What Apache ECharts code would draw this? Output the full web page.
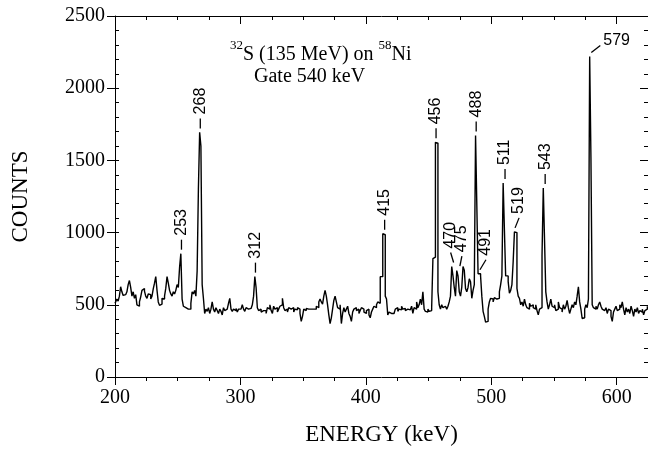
<!DOCTYPE html>
<html>
<head>
<meta charset="utf-8">
<script src="https://cdn.jsdelivr.net/npm/echarts@6/dist/echarts.min.js"></script>
<style>
  html, body { margin: 0; padding: 0; background: #fff; }
  #chart { width: 648px; height: 451px; }
</style>
</head>
<body>
<div id="chart"></div>
<script>
  // gamma spectrum gated on 540 keV, one value per 1 keV channel (200 ... 625 keV)
  const channelStart = 200;
  const counts = [
    510, 500, 540, 525, 560, 625, 590, 565, 570, 560,
    590, 640, 668, 620, 560, 590, 545, 570, 500, 490,
    520, 555, 600, 613, 595, 560, 545, 575, 570, 540,
    560, 610, 650, 695, 600, 520, 496, 505, 545, 540,
    560, 615, 695, 650, 600, 575, 560, 590, 575, 600,
    640, 620, 760, 854, 540, 490, 480, 490, 470, 460,
    470, 510, 590, 575, 600, 560, 735, 1300, 1694, 1600,
    640, 545, 440, 470, 455, 480, 440, 470, 520, 470,
    450, 480, 460, 440, 470, 455, 430, 480, 460, 470,
    480, 510, 545, 470, 455, 470, 460, 475, 450, 470,
    470, 460, 500, 470, 455, 480, 470, 460, 475, 480,
    500, 560, 695, 620, 480, 460, 470, 450, 460, 470,
    460, 440, 480, 470, 500, 460, 440, 490, 470, 480,
    450, 470, 490, 500, 545, 480, 460, 470, 450, 480,
    470, 460, 480, 450, 470, 465, 480, 470, 440, 385,
    420, 470, 460, 475, 470, 465, 470, 480, 470, 475,
    470, 490, 480, 520, 540, 520, 505, 560, 600, 560,
    500, 430, 370, 410, 470, 530, 560, 520, 480, 470,
    500, 370, 440, 480, 450, 470, 490, 440, 420, 385,
    450, 470, 480, 460, 470, 440, 460, 480, 470, 450,
    440, 460, 470, 430, 410, 450, 470, 490, 480, 500,
    520, 510, 695, 695, 992, 985, 560, 540, 430, 450,
    440, 445, 440, 445, 470, 480, 455, 470, 465, 490,
    470, 475, 460, 470, 480, 465, 470, 490, 440, 480,
    470, 520, 480, 500, 540, 500, 590, 470, 455, 450,
    470, 455, 460, 480, 820, 830, 1625, 1620, 590, 500,
    470, 500, 480, 490, 480, 470, 490, 520, 560, 765,
    700, 620, 560, 737, 700, 590, 560, 620, 765, 740,
    613, 590, 620, 680, 660, 545, 600, 640, 1673, 1670,
    715, 715, 700, 560, 455, 420, 380, 385, 470, 520,
    545, 540, 520, 550, 540, 545, 545, 590, 640, 700,
    1343, 1340, 700, 700, 660, 580, 600, 640, 800, 1005,
    1000, 613, 560, 545, 500, 520, 490, 540, 500, 480,
    470, 510, 490, 500, 480, 470, 500, 460, 430, 470,
    480, 840, 1308, 1305, 590, 520, 470, 500, 540, 490,
    480, 500, 460, 470, 520, 480, 470, 450, 500, 470,
    490, 530, 480, 440, 470, 500, 480, 520, 500, 560,
    625, 520, 470, 405, 410, 470, 500, 480, 540, 2220,
    1520, 500, 480, 470, 490, 470, 500, 520, 490, 470,
    460, 450, 480, 440, 470, 460, 420, 385, 450, 470,
    490, 460, 470, 500, 480, 520, 470, 430, 480, 450,
    470, 440, 490, 460, 420, 470, 450, 480, 440, 460,
    450, 470, 430, 460, 470, 490
  ];

  // labelled peaks (keV) and the height of each peak top
  const peakEnergies = [253, 268, 312, 415, 456, 470, 475, 488, 491, 511, 519, 543, 579];
  const peakTops = [854, 1694, 695, 992, 1625, 765, 740, 1673, 715, 1343, 1005, 1308, 2220];
  // sideways offset of each label from its peak, px
  const labelShift = [0, 0, 0, 0, 0, -3, 2, 0, 6, 0, 4, 0, 0];
  const sideLabels = [579];

  const energyRange = [200, 625];
  const countRange = [0, 2500];

  const serif = '"Liberation Serif", "Times New Roman", serif';
  const sans = '"Liberation Sans", Arial, sans-serif';

  const spectrum = counts.map((c, i) => [channelStart + i, c]);

  const renderPeakLabel = (params, api) => {
    const p = api.coord([api.value(0), api.value(1)]);
    const x = p[0];
    const y = p[1];
    const shift = api.value(2);
    const text = String(api.value(0));
    const dash = { stroke: '#000', lineWidth: 1.3 };
    if (sideLabels.indexOf(api.value(0)) >= 0) {
      return {
        type: 'group',
        children: [
          { type: 'line', shape: { x1: x + 1, y1: y - 4, x2: x + 10, y2: y - 11 }, style: dash },
          {
            type: 'text', x: x + 13, y: y - 16,
            style: { text, fill: '#000', font: '16px ' + sans, align: 'left', verticalAlign: 'middle' },
          },
        ],
      };
    }
    return {
      type: 'group',
      children: [
        { type: 'line', shape: { x1: x, y1: y - 4, x2: x + shift, y2: y - 14 }, style: dash },
        {
          type: 'text', x: x + shift, y: y - 18, rotation: Math.PI / 2,
          style: { text, fill: '#000', font: '16px ' + sans, align: 'left', verticalAlign: 'middle' },
        },
      ],
    };
  };

  const black = { color: '#000', width: 1 };

  const getOption = () => {
    const value = {
      animation: false,
      backgroundColor: '#fff',
      grid: { left: 115, top: 16, width: 534, height: 363 },
      xAxis: [
        {
          type: 'value', position: 'bottom', min: energyRange[0], max: energyRange[1], interval: 100,
          axisLine: { show: true, onZero: false, lineStyle: black },
          axisTick: { show: true, inside: false, length: 8, lineStyle: black },
          axisLabel: { color: '#000', fontFamily: serif, fontSize: 20, margin: 11, showMaxLabel: false },
          splitLine: { show: false },
          name: 'ENERGY (keV)', nameLocation: 'middle', nameGap: 46,
          nameTextStyle: { color: '#000', fontFamily: serif, fontSize: 23 },
        },
        {
          type: 'value', position: 'bottom', min: energyRange[0], max: energyRange[1], interval: 25,
          axisLine: { show: false, onZero: false },
          axisTick: { show: true, inside: false, length: 4, lineStyle: black },
          axisLabel: { show: false },
          splitLine: { show: false },
        },
        {
          type: 'value', position: 'top', min: energyRange[0], max: energyRange[1], interval: 100,
          axisLine: { show: true, onZero: false, lineStyle: black },
          axisTick: { show: true, inside: true, length: 8, lineStyle: black },
          axisLabel: { show: false },
          splitLine: { show: false },
        },
        {
          type: 'value', position: 'top', min: energyRange[0], max: energyRange[1], interval: 25,
          axisLine: { show: false, onZero: false },
          axisTick: { show: true, inside: true, length: 4, lineStyle: black },
          axisLabel: { show: false },
          splitLine: { show: false },
        },
      ],
      yAxis: [
        {
          type: 'value', position: 'left', min: countRange[0], max: countRange[1], interval: 500,
          axisLine: { show: true, onZero: false, lineStyle: black },
          axisTick: { show: true, inside: false, length: 8, lineStyle: black },
          axisLabel: {
            color: '#000', fontFamily: serif, fontSize: 20, margin: 10,
            formatter: (v) => String(v),
          },
          splitLine: { show: false },
          name: 'COUNTS', nameLocation: 'middle', nameGap: 83,
          nameTextStyle: { color: '#000', fontFamily: serif, fontSize: 23 },
        },
        {
          type: 'value', position: 'left', min: countRange[0], max: countRange[1], interval: 100,
          axisLine: { show: false, onZero: false },
          axisTick: { show: true, inside: true, length: 4, lineStyle: black },
          axisLabel: { show: false },
          splitLine: { show: false },
        },
        {
          type: 'value', position: 'right', min: countRange[0], max: countRange[1], interval: 500,
          axisLine: { show: true, onZero: false, lineStyle: black },
          axisTick: { show: true, inside: true, length: 8, lineStyle: black },
          axisLabel: { show: false },
          splitLine: { show: false },
        },
        {
          type: 'value', position: 'right', min: countRange[0], max: countRange[1], interval: 100,
          axisLine: { show: false, onZero: false },
          axisTick: { show: true, inside: true, length: 4, lineStyle: black },
          axisLabel: { show: false },
          splitLine: { show: false },
        },
      ],
      graphic: [
        {
          type: 'text', left: 230, top: 39,
          style: {
            text: '{sup|32}{main|S (135 MeV) on }{sup|58}{main|Ni}',
            rich: {
              main: { fontFamily: serif, fontSize: 20, lineHeight: 26, verticalAlign: 'bottom', color: '#000' },
              sup: { fontFamily: serif, fontSize: 13, lineHeight: 13, verticalAlign: 'top', color: '#000' },
            },
          },
        },
        {
          type: 'text', left: 254, top: 67,
          style: { text: 'Gate 540 keV', font: '20px ' + serif, fill: '#000' },
        },
      ],
      series: [
        {
          type: 'line',
          xAxisIndex: 0,
          yAxisIndex: 0,
          data: spectrum,
          step: 'middle',
          showSymbol: false,
          lineStyle: { color: '#000', width: 1.4 },
          silent: true,
        },
        {
          type: 'custom',
          xAxisIndex: 0,
          yAxisIndex: 0,
          clip: false,
          silent: true,
          data: peakEnergies.map((e, i) => [e, peakTops[i], labelShift[i]]),
          renderItem: renderPeakLabel,
        },
      ],
    };
    return value;
  };

  const myChart = echarts.init(document.getElementById('chart'));
  myChart.setOption(getOption());
</script>
</body>
</html>
